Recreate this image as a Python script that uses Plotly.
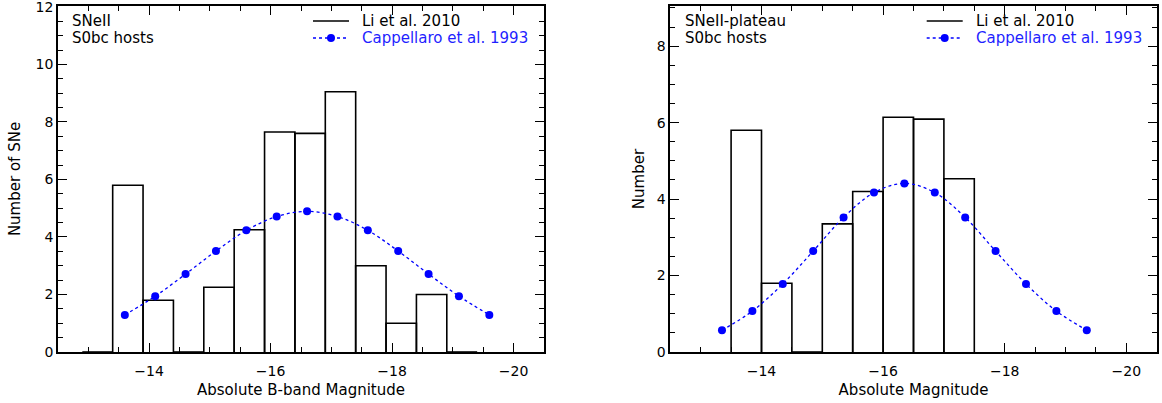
import plotly.graph_objects as go

# ---------------- data ----------------
# Left panel: SNeII, S0bc hosts (Li et al. 2010 histogram)
snii_edges = [-12.9, -13.4, -13.9, -14.4, -14.9, -15.4, -15.9, -16.4,
              -16.9, -17.4, -17.9, -18.4, -18.9, -19.4]
snii_counts = [0.0, 5.8, 1.8, 0.0, 2.25, 4.25, 7.65, 7.6, 9.05, 3.0, 1.0, 2.0, 0.0]
# Cappellaro et al. 1993 gaussian
snii_capp_mag = [-13.6, -14.1, -14.6, -15.1, -15.6, -16.1, -16.6,
                 -17.1, -17.6, -18.1, -18.6, -19.1, -19.6]
snii_capp_val = [1.29, 1.94, 2.71, 3.51, 4.23, 4.71, 4.89,
                 4.71, 4.23, 3.51, 2.71, 1.94, 1.29]

# Right panel: SNeII-plateau, S0bc hosts
iip_edges = [-13.5, -14.0, -14.5, -15.0, -15.5, -16.0, -16.5, -17.0, -17.5]
iip_counts = [5.8, 1.8, 0.0, 3.35, 4.2, 6.14, 6.09, 4.53]
iip_capp_mag = [-13.35, -13.85, -14.35, -14.85, -15.35, -15.85, -16.35,
                -16.85, -17.35, -17.85, -18.35, -18.85, -19.35]
iip_capp_val = [0.57, 1.07, 1.78, 2.64, 3.52, 4.17, 4.41,
                4.17, 3.52, 2.64, 1.78, 1.07, 0.57]

labels_left = ["SNeII", "S0bc hosts"]
labels_right = ["SNeII-plateau", "S0bc hosts"]
legend_names = ["Li et al. 2010", "Cappellaro et al. 1993"]


def step_path(edges, counts):
    xs, ys = [], []
    for i, c in enumerate(counts):
        xs += [edges[i], edges[i], edges[i + 1], edges[i + 1], None]
        ys += [0, c, c, 0, None]
    return xs, ys


FONT = "DejaVu Sans"
BLUE = "#0000ff"
TXT_BLUE = "#1f1fff"
W, H = 1162, 403
XR = [-12.5, -20.5]
YR1 = [0, 12.03]
YR2 = [0, 9.05]

fig = go.Figure()

# histogram on the main (tick-bearing) x axis, gaussian on the labelled overlay x axis
for (edges, counts, cm, cv, xa_main, xa_lab, ya) in [
    (snii_edges, snii_counts, snii_capp_mag, snii_capp_val, "x", "x3", "y"),
    (iip_edges, iip_counts, iip_capp_mag, iip_capp_val, "x2", "x4", "y2"),
]:
    hx, hy = step_path(edges, counts)
    fig.add_trace(go.Scatter(
        x=hx, y=hy, mode="lines", xaxis=xa_main, yaxis=ya,
        line=dict(color="black", width=1.6), name=legend_names[0],
        connectgaps=False, showlegend=False,
    ))
    fig.add_trace(go.Scatter(
        x=cm, y=cv, mode="lines+markers", xaxis=xa_lab, yaxis=ya,
        line=dict(color=BLUE, width=1.3, dash="dot", shape="spline"),
        marker=dict(color=BLUE, size=8), name=legend_names[1], showlegend=False,
    ))

base = dict(showgrid=False, zeroline=False, automargin=False,
            tickfont=dict(family=FONT, size=14, color="black"))
minor = dict(ticks="inside", ticklen=5, tickwidth=1.2, tickcolor="black",
             tickmode="linear", tick0=0, dtick=0.5)
main_x = dict(base, showline=True, linecolor="black", linewidth=1.5, mirror="ticks",
              ticks="inside", ticklen=9, tickwidth=1.2, tickcolor="black",
              tickmode="linear", tick0=0, dtick=2, showticklabels=False, minor=minor)
lab_x = dict(base, showline=False, ticks="", showticklabels=True,
             tickmode="linear", tick0=0, dtick=2, ticklabelstandoff=9)
main_y = dict(base, showline=True, linecolor="black", linewidth=1.5, mirror="ticks",
              ticks="inside", ticklen=9, tickwidth=1.2, tickcolor="black",
              tickmode="linear", tick0=0, dtick=2, ticklabeloverflow="allow",
              minor=minor)

xdom1 = [58 / W, 544 / W]
xdom2 = [670.3 / W, 1156.7 / W]
ydom = [1 - 352 / H, 1 - 6 / H]

fig.update_layout(
    width=W, height=H,
    margin=dict(l=0, r=0, t=0, b=0),
    paper_bgcolor="white", plot_bgcolor="white",
    font=dict(family=FONT, size=15, color="black"),
    showlegend=False,
    xaxis=dict(main_x, domain=xdom1, range=XR, anchor="y"),
    xaxis2=dict(main_x, domain=xdom2, range=XR, anchor="y2"),
    xaxis3=dict(lab_x, overlaying="x", anchor="y", domain=xdom1, range=XR,
                title=dict(text="Absolute B-band Magnitude", standoff=6,
                           font=dict(family=FONT, size=15))),
    xaxis4=dict(lab_x, overlaying="x2", anchor="y2", domain=xdom2, range=XR,
                title=dict(text="Absolute Magnitude", standoff=6,
                           font=dict(family=FONT, size=15))),
    yaxis=dict(main_y, domain=ydom, range=YR1, anchor="x",
               title=dict(text="Number of SNe", standoff=11,
                          font=dict(family=FONT, size=15))),
    yaxis2=dict(main_y, domain=ydom, range=YR2, anchor="x2",
                title=dict(text="Number", standoff=9,
                           font=dict(family=FONT, size=15))),
)

# panel labels
for xp, labels in [(70, labels_left), (682.7, labels_right)]:
    for i, t in enumerate(labels):
        fig.add_annotation(
            text=t, x=xp / W, y=1 - (21 + 17 * i) / H, xref="paper", yref="paper",
            xanchor="left", yanchor="middle", showarrow=False,
            font=dict(family=FONT, size=15, color="black"),
        )

# hand-drawn legends (IDL style)
for lx in [313, 926.7]:
    y1 = 21
    y2 = 38
    fig.add_shape(type="line", xref="paper", yref="paper",
                  x0=lx / W, x1=(lx + 36) / W, y0=1 - y1 / H, y1=1 - y1 / H,
                  line=dict(color="black", width=1.6))
    fig.add_shape(type="line", xref="paper", yref="paper",
                  x0=lx / W, x1=(lx + 36) / W, y0=1 - y2 / H, y1=1 - y2 / H,
                  line=dict(color=BLUE, width=1.3, dash="dot"))
    fig.add_shape(type="circle", xref="paper", yref="paper",
                  x0=(lx + 18 - 4) / W, x1=(lx + 18 + 4) / W,
                  y0=1 - (y2 + 4) / H, y1=1 - (y2 - 4) / H,
                  fillcolor=BLUE, line=dict(color=BLUE, width=0))
    fig.add_annotation(text=legend_names[0], x=(lx + 47) / W, y=1 - y1 / H,
                       xref="paper", yref="paper", xanchor="left", yanchor="middle",
                       showarrow=False, font=dict(family=FONT, size=15, color="black"))
    fig.add_annotation(text=legend_names[1], x=(lx + 47) / W, y=1 - y2 / H,
                       xref="paper", yref="paper", xanchor="left", yanchor="middle",
                       showarrow=False, font=dict(family=FONT, size=15, color=TXT_BLUE))

fig.write_html("out.html", config={"displayModeBar": False},
               post_script="document.body.style.margin='0';document.body.style.padding='0';")
